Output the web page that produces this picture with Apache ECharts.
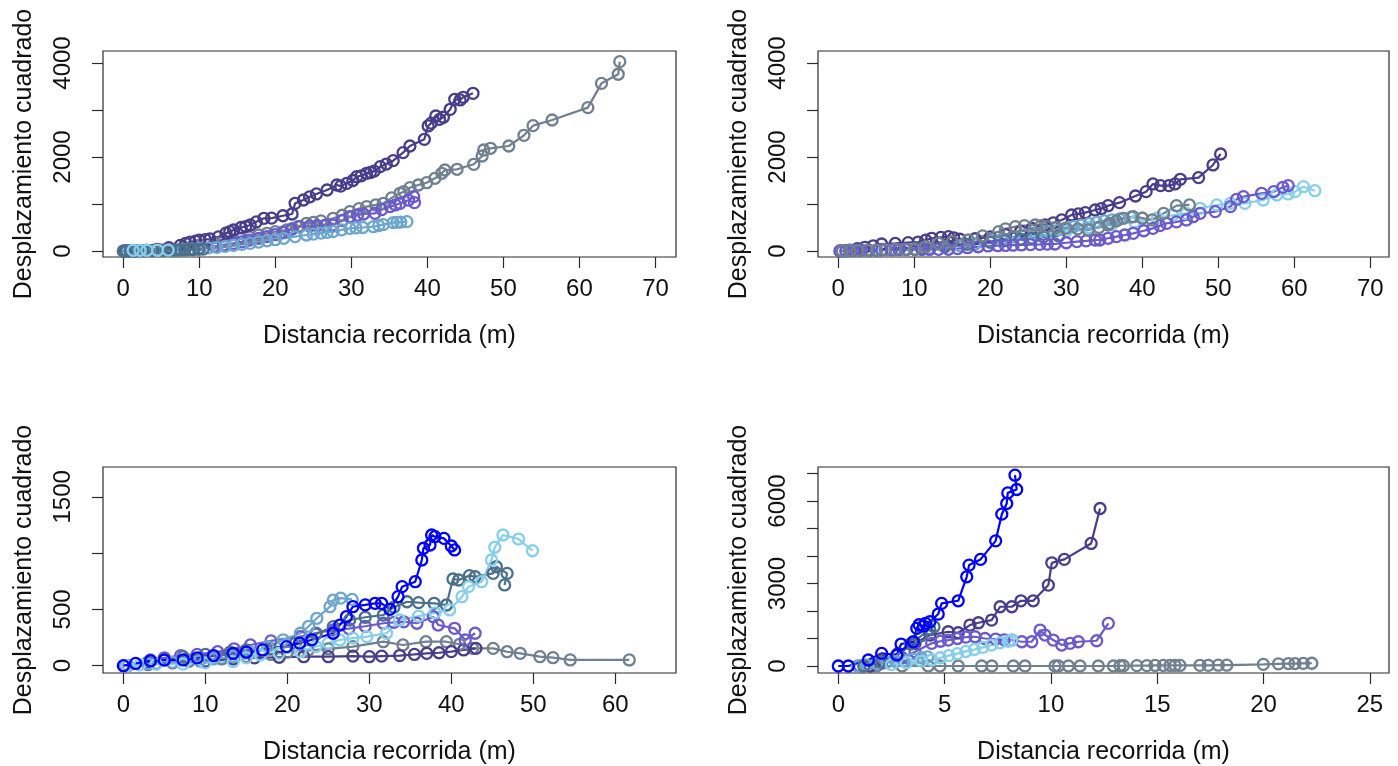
<!DOCTYPE html>
<html>
<head>
<meta charset="utf-8">
<script src="https://cdn.jsdelivr.net/npm/echarts@6/dist/echarts.min.js"></script>
<style>
  html, body { margin: 0; padding: 0; background: #fff; }
  #chart { width: 1398px; height: 766px; }
</style>
</head>
<body>
<div id="chart"></div>
<script>
// Trajectories: [distance travelled (m), squared displacement]

// Panel 1 (top left)
const p1SlateGray = [[0.5,0],[2,5],[4,20],[5.7,36],[8,80],[10.1,128],[12,170],[13.2,200],[14.5,234],[15.5,265],[16.5,300],[17.8,340],[18.9,376],[20,410],[21.5,447],[22.3,480],[23,520],[24.1,589],[25,610],[26,640],[27.6,695],[28.8,760],[29.8,837],[31,900],[32,943],[33.2,980],[34.2,1014],[35.3,1130],[36.4,1227],[36.9,1262],[37.7,1347],[38.8,1404],[39.9,1453],[41,1547],[41.9,1653],[42.3,1723],[43.9,1738],[46.1,1844],[47.2,2021],[47.4,2149],[48.3,2185],[50.7,2234],[52.7,2461],[53.9,2667],[56.4,2787],[61.1,3050],[62.9,3567],[65.1,3760],[65.3,4028]];
const p1SlateBlue = [[1,0],[3,10],[5,20],[7.5,35],[10.1,57],[12,100],[13.2,130],[14.5,163],[15.6,195],[16.5,230],[17.8,270],[18.9,305],[20,350],[21,400],[22.1,460],[23.2,517],[24.5,530],[25.5,540],[26.6,548],[27.6,553],[28.8,650],[29.8,730],[30.8,760],[31.6,787],[33.1,801],[34,880],[35.1,943],[35.8,980],[36.4,1014],[37.5,1080],[38.2,1156],[38.3,1030]];
const p1DarkSlateBlue = [[0.3,0],[1.5,5],[3,15],[4.5,35],[6,70],[7.5,120],[8.2,160],[8.8,190],[9.5,210],[10,230],[10.8,240],[11.4,255],[12.5,300],[13.5,380],[14,410],[14.5,447],[15.5,500],[16.1,520],[16.7,553],[17.5,620],[18.5,695],[19.5,700],[21,750],[22.2,787],[22.6,1014],[23.7,1085],[24.5,1150],[25.4,1213],[26.8,1298],[28.1,1404],[28.6,1380],[29.4,1440],[30.2,1500],[30.7,1581],[31.3,1600],[32,1653],[32.5,1670],[33,1700],[33.8,1794],[34.6,1850],[35.5,1922],[36.8,2092],[37.7,2234],[39.6,2376],[40.1,2660],[40.5,2720],[41.1,2872],[41.6,2800],[42.1,2845],[43,3014],[43.6,3227],[44.3,3213],[44.7,3270],[46,3355]];
const p1SteelBlue = [[0.5,0],[2.5,5],[5,15],[7.9,36],[9,45],[10,55],[11.2,66],[12.3,78],[13.4,100],[14.5,120],[15.6,140],[16.7,163],[17.8,190],[18.9,215],[20,240],[21.1,270],[22.6,305],[24.1,340],[25,360],[26,380],[26.8,395],[27.6,411],[28.7,450],[29.8,482],[30.6,490],[31.5,500],[32.9,517],[33.6,540],[34.2,560],[35.5,603],[36,610],[36.5,615],[37.3,624]];
const p1Teal = [[0,0],[0.4,0],[0.9,2],[1.5,3],[2.1,4],[2.6,6],[3.3,7],[3.9,9],[4.4,10],[5.1,13],[5.7,15],[6.2,17],[6.9,20],[7.5,22],[8.1,25],[8.7,29],[9.2,32],[9.9,36],[10.5,40]];
const p1SkyBlue = [[1.3,15],[2.2,15],[3.1,15],[4.5,16],[5.9,18]];

// Panel 2 (top right)
const p2SlateGray = [[0.5,0],[1.5,5],[2.5,10],[3.8,15],[5,20],[6.2,25],[7.5,30],[8.8,33],[10.1,36],[11.5,90],[13.2,163],[15,200],[17.1,234],[19,320],[21.1,411],[22,470],[23.3,517],[24.5,540],[25.9,553],[26.7,540],[27.5,520],[28.7,500],[29.9,482],[31.5,470],[32.9,447],[34.3,500],[35.5,553],[35.7,589],[36.6,640],[37.5,695],[38.8,730],[40,700],[41.3,660],[42.8,801],[44.5,964],[46.2,979]];
const p2SlateBlue = [[0.2,0],[1,5],[2,10],[3,12],[4,15],[5,18],[5.7,21],[7,25],[8,28],[9,29],[10.1,30],[11,31],[12,33],[13.2,34],[14.5,36],[15.7,50],[17,70],[18.4,90],[19.7,107],[21,112],[22,118],[23,123],[24.1,128],[25.3,135],[26.5,140],[27.5,145],[28.5,149],[30,175],[31.4,199],[32.6,215],[33.8,234],[34.4,234],[35.5,270],[36.6,305],[37.7,340],[38.8,376],[40.2,430],[41.4,482],[42.3,540],[43.2,589],[44.5,620],[45.8,660],[46.7,730],[47.6,801],[49.6,837],[51.6,943],[52.4,1099],[53.3,1156],[55.7,1227],[57.3,1262],[58.5,1355],[59.2,1390]];
const p2Teal = [[0.5,0],[4,15],[8,35],[11,60],[14,95],[17,140],[20,185],[22,220],[24,250],[25.5,275],[27,300],[29,320]];
const p2SteelBlue = [[1,0],[4,10],[8,30],[12,60],[16,110],[18,150],[20,200],[21.5,250],[23,300],[24.5,340],[26,380],[27.5,420],[29,450],[30,490],[31,520],[32,550],[33,580],[34,610],[35,640],[36,660],[37,680],[38.5,720],[40,700]];
const p2SkyBlue = [[0.5,0],[3,10],[6,20],[10,40],[14,80],[18,150],[22,230],[26,320],[30,420],[33,500],[36,560],[39,620],[42,700],[44,760],[45.8,801],[47.6,908],[49.8,979],[51.6,1014],[53.5,1014],[55.9,1085],[57.7,1191],[59.2,1213],[60.1,1262],[61.2,1368],[62.7,1283]];
const p2DarkSlateBlue = [[0.3,0],[1.5,20],[2.5,50],[3.5,78],[4.6,110],[5.7,149],[7.5,160],[9.2,177],[10.5,190],[11.5,230],[12.3,270],[13.5,290],[14.5,305],[15.2,280],[16,250],[18,260],[20,300],[22,350],[24,420],[25.5,480],[27.2,553],[28.3,600],[29.4,660],[30.7,766],[31.6,790],[32.5,815],[33.8,872],[34.6,900],[35.5,964],[37,1028],[39.1,1170],[40.5,1262],[41.4,1426],[42.4,1390],[43.5,1390],[44.3,1426],[45,1525],[47.4,1560],[49.3,1830],[50.3,2064]];

// Panel 3 (bottom left)
const p3SlateGray = [[0.5,0],[4,20],[8,40],[12,60],[15,80],[18,100],[20,120],[22.5,135],[25,150],[28,170],[31.7,213],[34.1,184],[36.9,213],[39.4,213],[41,190],[42.6,154],[45.1,154],[46.8,124],[48.4,110],[50.8,80],[52.4,71],[54.5,51],[61.7,51]];
const p3DarkSlateBlue = [[0.3,0],[3,10],[6,25],[10,40],[13.4,60],[16,70],[19,75],[22,80],[25,80],[28,85],[30,80],[31.5,85],[33.7,90],[35.5,100],[37,110],[38.5,115],[40,125],[41.5,140],[43,154]];
const p3SlateBlue = [[0.5,0],[3.3,51],[5,70],[7,90],[9,100],[11.5,124],[13.5,150],[15.5,184],[18,220],[21.6,258],[23.5,290],[25.6,317],[27.5,330],[29.5,350],[31.7,377],[33,385],[34.2,390],[35.8,377],[37.8,435],[38.4,361],[40.4,332],[41.7,228],[42.9,288]];
const p3Teal = [[0.5,0],[3,30],[5,55],[7.3,80],[10,100],[13,120],[15,140],[18,150],[21,200],[23.5,280],[25.6,347],[27.6,406],[29.5,430],[31.7,450],[33,520],[34.6,568],[36,560],[37.9,554],[39.4,539],[40.2,770],[40.9,761],[42.2,800],[42.9,790],[45.1,820],[45.5,879],[46.8,820],[46.5,717]];
const p3SteelBlue = [[0.5,0],[3,15],[6,30],[9.3,42],[11,60],[13.4,80],[15.5,120],[17.6,169],[19.5,230],[21.6,288],[22.6,350],[23.6,421],[25.2,524],[25.6,583],[26.5,600],[27.9,589]];
const p3SkyBlue = [[0.4,0],[2,8],[4,12],[7.3,15],[10,25],[13.4,36],[15,70],[16.7,95],[19,110],[21.6,124],[23.5,170],[25,200],[26.4,228],[28,245],[29.7,258],[32.1,288],[33.7,406],[36,440],[38,470],[39.8,495],[41.3,613],[42.1,702],[43.7,746],[44.9,939],[45.3,1052],[46.3,1161],[48.2,1125],[49.9,1021]];
const p3Blue = [[0,0],[1.5,20],[3.3,42],[5,50],[7.3,51],[9,70],[11,90],[13.4,110],[15,120],[17,140],[19.9,169],[21.5,200],[23,230],[25.6,288],[26.4,360],[27.2,435],[28,524],[29.5,540],[30.7,554],[31.5,554],[32.5,501],[33.5,613],[34,702],[35.6,746],[36.4,939],[36.6,1043],[37.4,1072],[37.6,1161],[38,1146],[39.1,1131],[40,1063],[40.4,1028]];

// Panel 4 (bottom right)
const p4SlateGray = [[1.8,0],[3,0],[4.23,0],[4.78,0],[5.64,0],[6.74,0],[7.22,0],[8.23,0],[8.78,0],[10.19,0],[10.35,0],[10.82,0],[11.37,0],[12.23,0],[12.94,0],[13.25,10],[13.41,10],[14.04,15],[14.51,15],[14.9,20],[15.29,20],[15.6,20],[15.84,20],[16.07,20],[17.01,25],[17.4,25],[17.87,30],[18.27,30],[19.99,60],[20.7,80],[21.17,90],[21.48,90],[21.87,95],[22.27,100]];
const p4DarkSlateBlue = [[1.5,0],[2.04,218],[2.82,461],[3.61,824],[4.31,1126],[5.17,1246],[5.64,1210],[6.19,1489],[6.59,1573],[7.21,1671],[7.61,2154],[8.16,2154],[8.59,2372],[9.17,2372],[9.88,2942],[10.04,3752],[10.63,3876],[11.89,4457],[12.31,5728]];
const p4SlateBlue = [[1,0],[2.04,98],[3,300],[3.61,519],[4.39,824],[4.8,900],[5.17,944],[5.6,1000],[6,1050],[6.43,1064],[6.9,1000],[7.4,980],[7.8,950],[8.16,944],[8.63,883],[9.1,883],[9.49,1308],[9.72,1126],[10.11,944],[10.51,763],[10.9,824],[11.29,883],[12.15,919],[12.7,1551]];
const p4SteelBlue = [[0.9,0],[1.3,40],[1.8,90],[2.3,140],[2.7,160],[3.1,200],[3.5,250],[3.9,300],[4.2,330]];
const p4Teal = [[1.2,0],[2,150],[2.8,400],[3.4,800],[3.9,1100],[4.3,1350],[4.5,1430]];
const p4SkyBlue = [[2.5,50],[3.2,120],[3.9,180],[4.39,218],[4.8,300],[5.2,380],[5.6,450],[6,530],[6.4,600],[6.8,680],[7.2,760],[7.6,840],[8,900],[8.16,944]];
const p4Blue = [[0,0],[0.47,0],[1.41,218],[2.04,461],[2.75,400],[2.95,799],[3.53,883],[3.69,1369],[3.8,1500],[4,1453],[4.1,1550],[4.31,1609],[4.7,1889],[4.86,2277],[5.64,2372],[6.04,3244],[6.15,3669],[6.69,3876],[7.4,4551],[7.69,5521],[7.92,5910],[7.97,6295],[8.39,6418],[8.31,6938]];

// Tick values and labels
const ticks1X = [0, 10, 20, 30, 40, 50, 60, 70];
const ticks1Y = [0, 1000, 2000, 3000, 4000];
const labels1Y = [0, 2000, 4000];
const ticks3X = [0, 10, 20, 30, 40, 50, 60];
const ticks3Y = [0, 500, 1000, 1500];
const labels3Y = [0, 500, 1500];
const ticks4X = [0, 5, 10, 15, 20, 25];
const ticks4Y = [0, 1000, 2000, 3000, 4000, 5000, 6000, 7000];
const labels4Y = [0, 3000, 6000];

const xTitle = 'Distancia recorrida (m)';
const yTitle = 'Desplazamiento cuadrado';

const COLORS = {
  slateGray: '#708090',
  slateBlue: '#6A5ACD',
  darkSlateBlue: '#483D8B',
  steelBlue: '#6CA6CD',
  teal: '#4A708B',
  skyBlue: '#87CEEB',
  blue: '#0000FF'
};

const FONT = '"Liberation Sans", Arial, Helvetica, sans-serif';
const INK = '#111';
const FRAME = '#2b2b2b';

const grids = [
  { left: 103, top: 51, width: 573, height: 206 },
  { left: 818, top: 51, width: 571, height: 206 },
  { left: 103, top: 467, width: 573, height: 206 },
  { left: 818, top: 467, width: 571, height: 206 }
].map(g => Object.assign({ show: true, borderColor: FRAME, borderWidth: 1.2, backgroundColor: 'transparent' }, g));

const plainNumber = v => String(Math.round(v));

function xAxis(gridIndex, min, max, ticks) {
  return {
    type: 'value', gridIndex, min, max,
    axisLine: { show: false, onZero: false },
    splitLine: { show: false },
    axisTick: { show: true, length: 11, customValues: ticks, lineStyle: { color: FRAME, width: 1.2 } },
    axisLabel: { customValues: ticks, formatter: plainNumber, fontSize: 24, color: INK, margin: 20, fontFamily: FONT },
    name: xTitle, nameLocation: 'middle', nameGap: 67,
    nameTextStyle: { fontSize: 25, color: INK, fontFamily: FONT }
  };
}

function yAxis(gridIndex, min, max, ticks, labels) {
  return {
    type: 'value', gridIndex, min, max,
    axisLine: { show: false, onZero: false },
    splitLine: { show: false },
    axisTick: { show: true, length: 11, customValues: ticks, lineStyle: { color: FRAME, width: 1.2 } },
    axisLabel: { customValues: labels, formatter: plainNumber, rotate: 90, fontSize: 24, color: INK, margin: 28, fontFamily: FONT },
    name: yTitle, nameLocation: 'middle', nameGap: 66, nameRotate: 90,
    nameTextStyle: { fontSize: 25, color: INK, fontFamily: FONT }
  };
}

function track(panel, colorKey, data) {
  const c = COLORS[colorKey];
  return {
    type: 'line', xAxisIndex: panel, yAxisIndex: panel, data,
    symbol: 'circle', symbolSize: 11, showSymbol: true, showAllSymbol: true,
    lineStyle: { color: c, width: 2.2 },
    itemStyle: { color: 'rgba(255,255,255,0)', borderColor: c, borderWidth: 2.3 },
    emphasis: { disabled: true }, silent: true, z: 2
  };
}

const option = {
  animation: false,
  backgroundColor: '#ffffff',
  grid: grids,
  xAxis: [
    xAxis(0, -2.67, 72.7, ticks1X),
    xAxis(1, -2.67, 72.46, ticks1X),
    xAxis(2, -2.48, 67.4, ticks3X),
    xAxis(3, -0.955, 25.9, ticks4X)
  ],
  yAxis: [
    yAxis(0, -128, 4255, ticks1Y, labels1Y),
    yAxis(1, -128, 4255, ticks1Y, labels1Y),
    yAxis(2, -65, 1765, ticks3Y, labels3Y),
    yAxis(3, -254, 7236, ticks4Y, labels4Y)
  ],
  series: [
    track(0, 'slateGray', p1SlateGray),
    track(0, 'slateBlue', p1SlateBlue),
    track(0, 'darkSlateBlue', p1DarkSlateBlue),
    track(0, 'steelBlue', p1SteelBlue),
    track(0, 'teal', p1Teal),
    track(0, 'skyBlue', p1SkyBlue),

    track(1, 'darkSlateBlue', p2DarkSlateBlue),
    track(1, 'skyBlue', p2SkyBlue),
    track(1, 'steelBlue', p2SteelBlue),
    track(1, 'teal', p2Teal),
    track(1, 'slateBlue', p2SlateBlue),
    track(1, 'slateGray', p2SlateGray),

    track(2, 'slateGray', p3SlateGray),
    track(2, 'darkSlateBlue', p3DarkSlateBlue),
    track(2, 'slateBlue', p3SlateBlue),
    track(2, 'teal', p3Teal),
    track(2, 'steelBlue', p3SteelBlue),
    track(2, 'skyBlue', p3SkyBlue),
    track(2, 'blue', p3Blue),

    track(3, 'slateGray', p4SlateGray),
    track(3, 'darkSlateBlue', p4DarkSlateBlue),
    track(3, 'slateBlue', p4SlateBlue),
    track(3, 'steelBlue', p4SteelBlue),
    track(3, 'teal', p4Teal),
    track(3, 'skyBlue', p4SkyBlue),
    track(3, 'blue', p4Blue)
  ]
};

const chart = echarts.init(document.getElementById('chart'), null, { renderer: 'canvas' });
chart.setOption(option);
</script>
</body>
</html>
